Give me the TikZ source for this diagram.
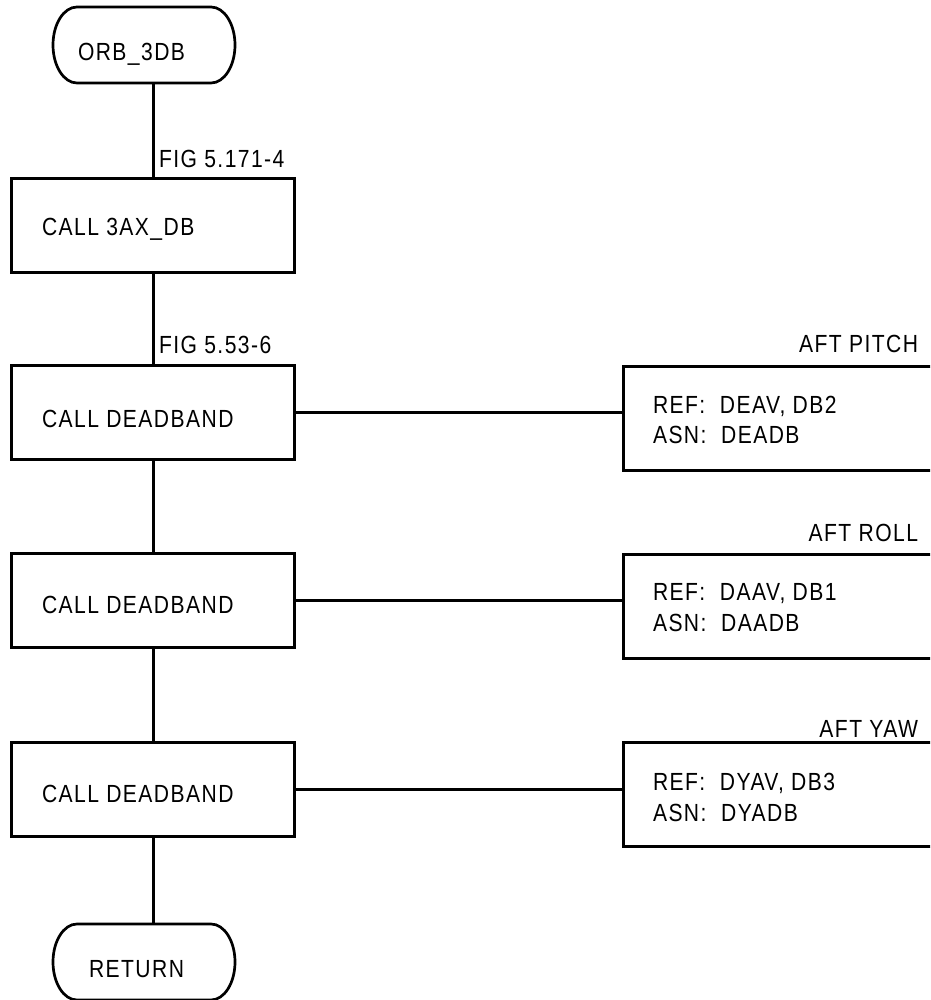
\documentclass[tikz,border=0pt]{standalone}
\usepackage{fontspec}
\setmainfont{Liberation Sans}[FakeStretch=0.85,LetterSpace=5.8]
\begin{document}
\begin{tikzpicture}[x=1pt,y=-1pt,
  every node/.style={font=\fontsize{24.8}{30}\selectfont},
  lbl/.style={inner sep=0pt, outer sep=0pt, anchor=base west},
  lble/.style={inner sep=0pt, outer sep=0pt, anchor=base east},
  procbox/.style={draw, line width=3pt, minimum width=283pt, minimum height=94pt, inner sep=0pt, anchor=north west},
  refbox/.style={draw, line width=3pt, minimum width=340pt, minimum height=104pt, inner sep=0pt, anchor=north west},
  termbox/.style={draw=none, minimum width=182pt, minimum height=76pt, inner sep=0pt, outer sep=0pt, anchor=north west},
  vconn/.style={line width=3pt},
  hconn/.style={line width=2.6pt},
  termline/.style={line width=2.7pt}
]
\clip (0,0) rectangle (930,1000);
\fill[white] (0,0) rectangle (930,1000);

\newcommand\termoutline[1]{%
  \draw[termline] ([xshift=24pt]#1.north west) -- ([xshift=-24pt]#1.north east)
    .. controls ([xshift=-10.75pt]#1.north east) and ([yshift=21pt]#1.east) .. (#1.east)
    .. controls ([yshift=-21pt]#1.east) and ([xshift=-10.75pt]#1.south east) .. ([xshift=-24pt]#1.south east)
    -- ([xshift=24pt]#1.south west)
    .. controls ([xshift=10.75pt]#1.south west) and ([yshift=-21pt]#1.west) .. (#1.west)
    .. controls ([yshift=21pt]#1.west) and ([xshift=10.75pt]#1.north west) .. ([xshift=24pt]#1.north west) -- cycle;}

\coordinate (sp) at (153,0);

% terminals
\node[termbox] (t1) at (53,7) {};
\termoutline{t1}
\node[lbl] (t1txt) at (78,61) {ORB\_3DB};
\node[termbox] (t2) at (53,924) {};
\termoutline{t2}
\node[lbl] (t2txt) at (89,977) {RETURN};

% process boxes
\node[procbox] (b1) at (10,177) {};
\node[lbl] (b1txt) at (42,236) {CALL 3AX\_DB};
\node[procbox] (b2) at (10,364) {};
\node[lbl] (b2txt) at (42,427) {CALL DEADBAND};
\node[procbox] (b3) at (10,552) {};
\node[lbl] (b3txt) at (42,613) {CALL DEADBAND};
\node[procbox] (b4) at (10,741) {};
\node[lbl] (b4txt) at (42,802) {CALL DEADBAND};

% figure references
\node[lbl] (f1) at (159,168) {FIG 5.171-4};
\node[lbl] (f2) at (159,353) {FIG 5.53-6};

% reference boxes
\node[refbox] (r1) at (622,365) {};
\node[lble] (r1h) at (918,352) {AFT PITCH};
\node[lbl] (r1a) at (653,413) {REF:\ \ DEAV, DB2};
\node[lbl] (r1b) at (653,443) {ASN:\ \ DEADB};

\node[refbox] (r2) at (622,553) {};
\node[lble] (r2h) at (918,541) {AFT ROLL};
\node[lbl] (r2a) at (653,600) {REF:\ \ DAAV, DB1};
\node[lbl] (r2b) at (653,631) {ASN:\ \ DAADB};

\node[refbox] (r3) at (622,741) {};
\node[lble] (r3h) at (918,737) {AFT YAW};
\node[lbl] (r3a) at (653,790) {REF:\ \ DYAV, DB3};
\node[lbl] (r3b) at (653,821) {ASN:\ \ DYADB};

% connectors
\draw[vconn] (t1.south -| sp) -- (b1.north -| sp);
\draw[vconn] (b1.south -| sp) -- (b2.north -| sp);
\draw[vconn] (b2.south -| sp) -- (b3.north -| sp);
\draw[vconn] (b3.south -| sp) -- (b4.north -| sp);
\draw[vconn] (b4.south -| sp) -- (t2.north -| sp);
\draw[hconn] (b2.east) -- (b2.east -| r1.west);
\draw[hconn] (b3.east) -- (b3.east -| r2.west);
\draw[hconn] (b4.east) -- (b4.east -| r3.west);
\end{tikzpicture}
\end{document}
